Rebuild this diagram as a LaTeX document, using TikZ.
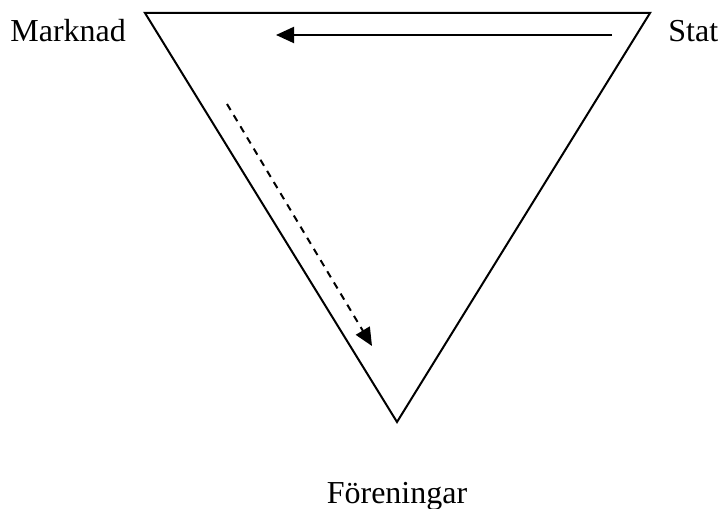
\documentclass[tikz,border=0pt]{standalone}
\usepackage{fontspec}
\setmainfont{Liberation Serif}
\usetikzlibrary{arrows.meta}

\begin{document}
\begin{tikzpicture}[x=0.5pt, y=-0.5pt,
		>={Triangle[length=9pt,width=8pt]},   %Pfeilspitzen
		side/.style={line width=1pt},
		flow/.style={->, line width=1pt},
		label/.style={font=\fontsize{16}{19}\selectfont, inner sep=0pt},
		line join=miter]
		%Bildbereich
		\useasboundingbox (0,0) rectangle (721,508);
		% Ecken
		\coordinate (marknad) at (145,13);
		\coordinate (stat) at (650,13);
		\coordinate (foren) at (397,422);
		% Dreieck
		\draw[side] (marknad) -- (stat) -- (foren) -- cycle;
		% Beschriftung
		\node[label, anchor=base west] (tmarknad) at (10,42) {Marknad};
		\node[label, anchor=base west] (tstat) at (668,42) {Stat};
		\node[label, anchor=base] (tforen) at (397,503) {Föreningar};
		% Pfeile
		\coordinate (a1) at (612,35);
		\coordinate (a2) at (276,35);
		\draw[flow] (a1) -- (a2);
		\coordinate (b1) at (227,104);
		\coordinate (b2) at (372,346);
		\draw[flow, dash pattern=on 3.5pt off 3pt] (b1) -- (b2);
	\end{tikzpicture}
\end{document}
